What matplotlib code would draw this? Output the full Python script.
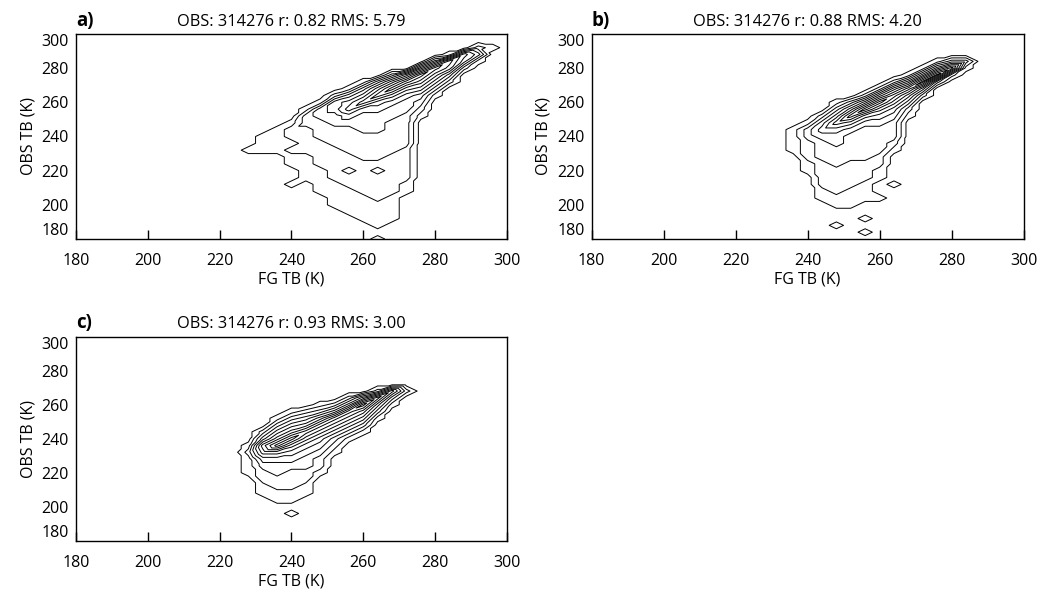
import numpy as np
import matplotlib
matplotlib.use('Agg')
from matplotlib import pyplot as plt
import matplotlib.tri as mtri

plt.rcParams['font.family'] = ['Open Sans', 'DejaVu Sans']

# grid nodes of the 2-D histogram (K)
fg_nodes = np.arange(220, 301, 4)
obs_nodes = np.arange(180, 301, 4)

# contour level index at each node: one string per FG column 220..300 K,
# characters run over OBS 180..300 K, 'a' = innermost (10th) contour
cols_a = [
    "0000000000 0000000000 0000000000 0",  # 220
    "0000000000 0000000000 0000000000 0",  # 224
    "0000000000 0001000000 0000000000 0",  # 228
    "0000000000 0001110000 0000000000 0",  # 232
    "0000000000 0001111000 0000000000 0",  # 236
    "0000000010 0112122100 0000000000 0",  # 240
    "0000000001 1112222331 0000000000 0",  # 244
    "0000000111 1222233344 1000000000 0",  # 248
    "0000011112 2222333445 5200000000 0",  # 252
    "0000111122 3223333457 6410000000 0",  # 256
    "0001111222 2233334445 8641000000 0",  # 260
    "1011112222 3233334445 6974000000 0",  # 264
    "0001111222 2223333344 57a7300000 0",  # 268
    "0000000112 2222333334 457a600000 0",  # 272
    "0000000000 0000000012 3468a50000 0",  # 276
    "0000000000 0000000000 0135794000 0",  # 280
    "0000000000 0000000000 0002478100 0",  # 284
    "0000000000 0000000000 0000025600 0",  # 288
    "0000000000 0000000000 0000001420 0",  # 292
    "0000000000 0000000000 0000000010 0",  # 296
    "0000000000 0000000000 0000000000 0",  # 300
]

cols_b = [
    "0000000000 0000000000 0000000000 0",  # 220
    "0000000000 0000000000 0000000000 0",  # 224
    "0000000000 0000000000 0000000000 0",  # 228
    "0000000000 0000000000 0000000000 0",  # 232
    "0000000000 0001111000 0000000000 0",  # 236
    "0000000000 1122233100 0000000000 0",  # 240
    "0000001122 2233345420 0000000000 0",  # 244
    "0010011222 2333445753 1000000000 0",  # 248
    "0000011122 2233334696 3000000000 0",  # 252
    "0101001112 223333346a 6200000000 0",  # 256
    "0000001001 1223333457 a620000000 0",  # 260
    "0000000010 0001233345 7962000000 0",  # 264
    "0000000000 0000000012 4695100000 0",  # 268
    "0000000000 0000000000 025a510000 0",  # 272
    "0000000000 0000000000 0003a51000 0",  # 276
    "0000000000 0000000000 0000283000 0",  # 280
    "0000000000 0000000000 0000013000 0",  # 284
    "0000000000 0000000000 0000000000 0",  # 288
    "0000000000 0000000000 0000000000 0",  # 292
    "0000000000 0000000000 0000000000 0",  # 296
    "0000000000 0000000000 0000000000 0",  # 300
]

cols_c = [
    "0000000000 0000000000 0000000000 0",  # 220
    "0000000000 0000000000 0000000000 0",  # 224
    "0000000000 1112100000 0000000000 0",  # 228
    "0000000112 2346742000 0000000000 0",  # 232
    "0000001122 3346a75310 0000000000 0",  # 236
    "0000101122 23457a7531 0000000000 0",  # 240
    "0000000112 2334579642 0000000000 0",  # 244
    "0000000000 1223457963 1000000000 0",  # 248
    "0000000000 0001235795 2000000000 0",  # 252
    "0000000000 0000013579 5200000000 0",  # 256
    "0000000000 0000001357 a500000000 0",  # 260
    "0000000000 0000000013 5820000000 0",  # 264
    "0000000000 0000000000 1360000000 0",  # 268
    "0000000000 0000000000 0020000000 0",  # 272
    "0000000000 0000000000 0000000000 0",  # 276
    "0000000000 0000000000 0000000000 0",  # 280
    "0000000000 0000000000 0000000000 0",  # 284
    "0000000000 0000000000 0000000000 0",  # 288
    "0000000000 0000000000 0000000000 0",  # 292
    "0000000000 0000000000 0000000000 0",  # 296
    "0000000000 0000000000 0000000000 0",  # 300
]

panel_letters = ['a)', 'b)', 'c)']
panel_titles = ['OBS: 314276 r: 0.82 RMS: 5.79',
                'OBS: 314276 r: 0.88 RMS: 4.20',
                'OBS: 314276 r: 0.93 RMS: 3.00']
contour_levels = np.arange(0.5, 10.5, 1.0)
axis_ticks = [180, 200, 220, 240, 260, 280, 300]


def level_grid(cols):
    z = np.array([[int(c, 16) for c in col.replace(' ', '')] for col in cols])
    assert z.shape == (len(fg_nodes), len(obs_nodes))
    return z.T.astype(float)  # rows = OBS, columns = FG


def triangulate(z):
    # split every grid cell in two; near the ridge along the 1:1 line,
    # elsewhere along the diagonal whose corners are most alike
    nx, ny = len(fg_nodes), len(obs_nodes)
    xx, yy = np.meshgrid(fg_nodes, obs_nodes)
    tris = []
    for j in range(ny - 1):
        for i in range(nx - 1):
            a = j * nx + i
            b, c, d = a + 1, a + nx + 1, a + nx
            za, zb, zc, zd = z[j, i], z[j, i + 1], z[j + 1, i + 1], z[j + 1, i]
            if max(za, zb, zc, zd) >= 5 or abs(za - zc) <= abs(zb - zd):
                tris += [[a, b, c], [a, c, d]]
            else:
                tris += [[a, b, d], [b, c, d]]
    return mtri.Triangulation(xx.ravel(), yy.ravel(), tris)


fig = plt.figure(figsize=(10.38, 5.9), dpi=100)
boxes = [[0.0732, 0.5949, 0.4152, 0.3475],
         [0.5699, 0.5949, 0.4162, 0.3475],
         [0.0732, 0.0836, 0.4152, 0.3458]]

for box, cols, letter, title in zip(boxes, [cols_a, cols_b, cols_c], panel_letters, panel_titles):
    ax = fig.add_axes(box)
    z = level_grid(cols)
    ax.tricontour(triangulate(z), z.ravel(), levels=contour_levels,
                  colors='black', linewidths=0.7)
    ax.set_xlim(180, 300)
    ax.set_ylim(180, 300)
    ax.set_xticks(axis_ticks)
    ax.set_yticks(axis_ticks)
    ax.tick_params(axis='x', direction='in', length=6.5, width=1, pad=10, labelsize=11.5)
    ax.tick_params(axis='y', length=0, pad=5, labelsize=11.5)
    ylabs = ax.get_yticklabels()
    ylabs[0].set_va('bottom')
    ylabs[-1].set_va('top')
    ax.set_xlabel('FG TB (K)', fontsize=11.5, labelpad=2)
    ax.set_ylabel('OBS TB (K)', fontsize=11.5, labelpad=4)
    ax.set_title(title, fontsize=11.8, pad=7)
    ax.set_title(letter, loc='left', fontsize=13.5, fontweight='bold', pad=6)
    for s in ax.spines.values():
        s.set_linewidth(1.0)

fig.savefig('out.png', dpi=100)
